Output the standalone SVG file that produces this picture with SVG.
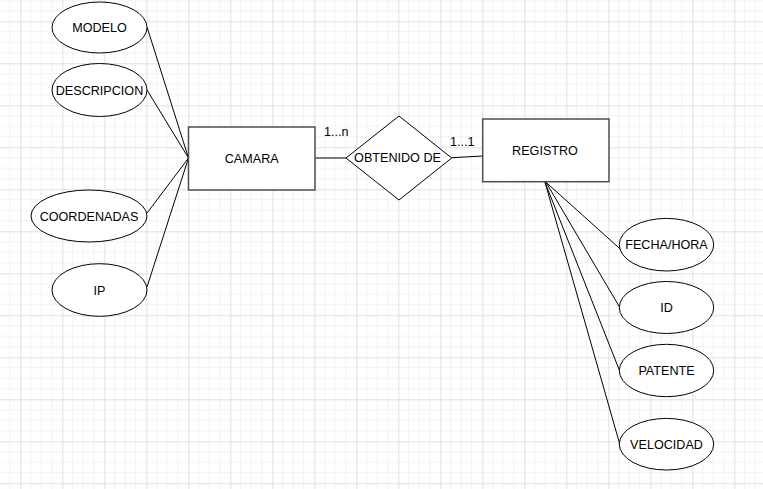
<svg xmlns="http://www.w3.org/2000/svg" width="763" height="489" viewBox="0 0 763 489">
<style>
.ent{fill:#fff;stroke:#4d4d4d;stroke-width:1.5}
.att{fill:#fff;stroke:#000;stroke-width:1}
.rel{fill:#fff;stroke:#000;stroke-width:1}
.edge{fill:none;stroke:#000;stroke-width:1}
text{font-family:"Liberation Sans",Arial,sans-serif;font-size:12.6px;fill:#000;text-anchor:middle}
.card{text-anchor:start}
</style>
<defs>
<pattern id="grid" patternUnits="userSpaceOnUse" x="20.3" y="21.3" width="42" height="42">
<path d="M10.5 0V42M21 0V42M31.5 0V42M0 10.5H42M0 21H42M0 31.5H42" stroke="#f1f1f1" stroke-width="1" fill="none"/>
<path d="M0.5 0V42M0 0.5H42" stroke="#e0e0e0" stroke-width="1" fill="none"/>
</pattern>
</defs>
<rect width="763" height="489" fill="#fff"/>
<rect width="763" height="489" fill="url(#grid)"/>
<g id="connectors">
<path class="edge" d="M147 27L188.5 158"/>
<path class="edge" d="M147 90L188.5 158"/>
<path class="edge" d="M146.7 213.5L188.5 158"/>
<path class="edge" d="M147 287L188.5 158"/>
<path class="edge" d="M315 158H346"/>
<path class="edge" d="M451.7 157.7L482.7 156"/>
<path class="edge" d="M546 182.3L625 253.3"/>
<path class="edge" d="M546 182.3L619.3 306.7"/>
<path class="edge" d="M545 182.3L619.3 370"/>
<path class="edge" d="M545 182.3L620 445"/>
<text class="card" x="324" y="136">1...n</text>
<text class="card" x="450" y="146">1...1</text>
</g>
<g id="modelo"><ellipse class="att" cx="99.5" cy="27.5" rx="47.5" ry="25.5"/><text x="99.5" y="32">MODELO</text></g>
<g id="descripcion"><ellipse class="att" cx="99.5" cy="90" rx="47.5" ry="26.5"/><text x="99.5" y="94.5">DESCRIPCION</text></g>
<g id="coordenadas"><ellipse class="att" cx="89" cy="216" rx="58" ry="26"/><text x="89" y="220.5">COORDENADAS</text></g>
<g id="ip"><ellipse class="att" cx="99.5" cy="290" rx="47.5" ry="26.3"/><text x="99.5" y="294.5">IP</text></g>
<g id="camara"><rect class="ent" x="188.5" y="127" width="126.5" height="63"/><text x="251.7" y="162.5">CAMARA</text></g>
<g id="obtenido"><polygon class="rel" points="346,158 399,116 451.7,158 399,200"/><text x="397.5" y="162.3">OBTENIDO DE</text></g>
<g id="registro"><rect class="ent" x="482.7" y="119" width="126.3" height="62.7"/><text x="545" y="154.5">REGISTRO</text></g>
<g id="fechahora"><ellipse class="att" cx="666.5" cy="244.7" rx="47.2" ry="26.3"/><text x="666.5" y="249.2">FECHA/HORA</text></g>
<g id="id"><ellipse class="att" cx="666.5" cy="307.5" rx="47.2" ry="26"/><text x="666.5" y="312">ID</text></g>
<g id="patente"><ellipse class="att" cx="666.5" cy="370.5" rx="47.2" ry="26.2"/><text x="666.5" y="375">PATENTE</text></g>
<g id="velocidad"><ellipse class="att" cx="666.5" cy="444.2" rx="47.2" ry="25.8"/><text x="666.5" y="448.7">VELOCIDAD</text></g>
</svg>
